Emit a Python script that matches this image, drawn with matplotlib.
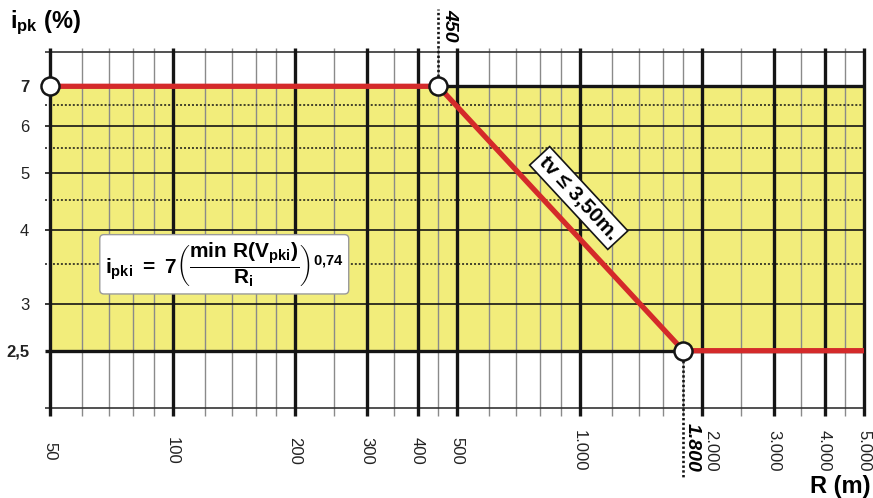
import math

import matplotlib.pyplot as plt
from matplotlib.ticker import NullLocator

plt.rcParams['font.family'] = ['Liberation Sans', 'DejaVu Sans']
plt.rcParams['mathtext.fontset'] = 'custom'
plt.rcParams['mathtext.rm'] = 'Liberation Sans:bold'
plt.rcParams['mathtext.it'] = 'Liberation Sans:bold'
plt.rcParams['mathtext.bf'] = 'Liberation Sans:bold'

# ── Data ──────────────────────────────────────────────────────────────────────
# max. gradient i_pk (%) against radius R (m)
r_knots = [50, 450, 1800, 5000]
i_knots = [7, 7, 2.5, 2.5]
r_marked = [50, 450, 1800]
i_marked = [7, 7, 2.5]

band_lo, band_hi = 2.5, 7          # shaded admissible band

r_major = [50, 100, 200, 300, 400, 500, 1000, 2000, 3000, 4000, 5000]
r_major_labels = ['50', '100', '200', '300', '400', '500',
                  '1.000', '2.000', '3.000', '4.000', '5.000']
r_minor = [60, 70, 80, 90, 120, 140, 160, 180, 250, 350, 450,
           600, 700, 800, 900, 1200, 1400, 1600, 1800, 2500, 3500, 4500]

i_ticks = [2.5, 3, 4, 5, 6, 7]
i_tick_labels = ['2,5', '3', '4', '5', '6', '7']
i_solid = [3, 4, 5, 6]
i_heavy = [2.5, 7]
i_dotted = [3.5, 4.5, 5.5, 6.5]
i_frame = [2, 8]

YELLOW = '#f2ed7b'
RED = '#d42a2a'
INK = '#151515'

# ── Figure ────────────────────────────────────────────────────────────────────
W, H = 873, 498
fig = plt.figure(figsize=(W / 100, H / 100), dpi=100)
ax = fig.add_axes([50 / W, 90 / H, 814 / W, 356 / H])
ax.set_xscale('log')
ax.set_yscale('log')
ax.set_xlim(50, 5000)
ax.set_ylim(2, 8)
for s in ax.spines.values():
    s.set_visible(False)
ax.xaxis.set_major_locator(NullLocator())
ax.xaxis.set_minor_locator(NullLocator())
ax.yaxis.set_minor_locator(NullLocator())
ax.set_yticks(i_ticks, i_tick_labels)
ax.tick_params(axis='y', length=0, pad=15, labelsize=12, labelcolor='#222222')
for lab in ax.get_yticklabels():
    if lab.get_text() in ('2,5', '7'):
        lab.set_fontweight('bold')


def frac_to_i(f):
    """axes fraction -> i value on the log y axis"""
    lo, hi = ax.get_ylim()
    return lo * (hi / lo) ** f


# yellow band
ax.axhspan(band_lo, band_hi, color=YELLOW, lw=0, zorder=0)

# grid
xt = ax.get_xaxis_transform()
yt = ax.get_yaxis_transform()
ax.vlines(r_minor, -0.022, 1.01, transform=xt, colors='#8a8a8a', lw=1.0,
          clip_on=False, zorder=1)
ax.hlines(i_dotted, -0.006, 1, transform=yt, colors=INK, lw=1.1,
          linestyles=(0, (1.3, 1.3)), clip_on=False, zorder=2)
ax.hlines(i_solid, -0.006, 1, transform=yt, colors=INK, lw=1.2,
          clip_on=False, zorder=2)
ax.hlines(i_frame, -0.006, 1, transform=yt, colors='#333333', lw=1.2,
          clip_on=False, zorder=2)
ax.hlines(i_heavy, -0.006, 1, transform=yt, colors=INK, lw=2.4,
          clip_on=False, zorder=3)
ax.vlines(r_major, -0.022, 1.01, transform=xt, colors=INK, lw=2.4,
          clip_on=False, zorder=3)

# x labels, rotated, below the frame ("2.000" nudged clear of the 1.800 mark)
for r, lab in zip(r_major, r_major_labels):
    dx = 9 if r == 2000 else 0
    ax.annotate(lab, xy=(r, -0.121), xycoords=xt, xytext=(dx, 0),
                textcoords='offset pixels', rotation=270, ha='center',
                va='center', fontsize=12, color='#222222')

# leader lines to the break points
ax.plot([r_marked[1]] * 2, [i_marked[1], frac_to_i(1.121)], color=INK,
        lw=1.9, ls=(0, (0.9, 0.9)), clip_on=False, zorder=4)
ax.plot([r_marked[2]] * 2, [i_marked[2], frac_to_i(-0.197)], color=INK,
        lw=1.9, ls=(0, (0.9, 0.9)), clip_on=False, zorder=4)
ax.annotate('450', xy=(r_marked[1], 1.074), xycoords=('data', 'axes fraction'),
            xytext=(11, 0), textcoords='offset pixels', rotation=270,
            ha='center', va='center', fontsize=14, fontweight='bold',
            fontstyle='italic')
ax.annotate('1.800', xy=(r_marked[2], -0.112), xycoords=('data', 'axes fraction'),
            xytext=(9, 0), textcoords='offset pixels', rotation=270,
            ha='center', va='center', fontsize=14, fontweight='bold',
            fontstyle='italic')

# curve + break points
ax.plot(r_knots, i_knots, color=RED, lw=3.8, solid_capstyle='butt',
        solid_joinstyle='miter', clip_on=False, zorder=5)
ax.plot(r_marked, i_marked, 'o', ms=13, mfc='white', mec=INK, mew=1.8,
        clip_on=False, zorder=6)

# label along the sloped part
p1 = ax.transData.transform((r_knots[1], i_knots[1]))
p2 = ax.transData.transform((r_knots[2], i_knots[2]))
angle = math.degrees(math.atan2(p2[1] - p1[1], p2[0] - p1[0]))
slope = math.log(i_knots[2] / i_knots[1]) / math.log(r_knots[2] / r_knots[1])
r_lab = 890
i_lab = i_knots[1] * (r_lab / r_knots[1]) ** slope
nx, ny = -math.sin(math.radians(angle)), math.cos(math.radians(angle))
ax.annotate('tv ≤ 3,50m.', xy=(r_lab, i_lab), xytext=(27 * nx, 27 * ny),
            textcoords='offset pixels', rotation=angle, rotation_mode='anchor',
            ha='center', va='center', fontsize=15, fontweight='bold', zorder=7,
            bbox=dict(boxstyle='square,pad=0.2', fc='white', ec=INK, lw=1.2))

# formula box
formula = (r'$\mathrm{i_{pki}\ =\ 7}\left(\dfrac{\mathrm{min\ R(V_{pki})}}'
           r'{\mathrm{R_i}}\right)^{\mathrm{0{,}74}}$')
ax.text(134, 3.5, formula, ha='center', va='center', fontsize=15, zorder=7,
        bbox=dict(boxstyle='round,pad=0.25,rounding_size=0.2', fc='white',
                  ec='#9a9a9a', lw=1.0))

# axis titles
fig.text(10 / W, 1 - 23 / H, r'$\mathrm{i_{pk}}$ (%)', ha='left', va='center',
         fontsize=17, fontweight='bold')
fig.text(871 / W, 1 - 486 / H, 'R (m)', ha='right', va='center',
         fontsize=17, fontweight='bold')

fig.savefig('out.png', dpi=100)
